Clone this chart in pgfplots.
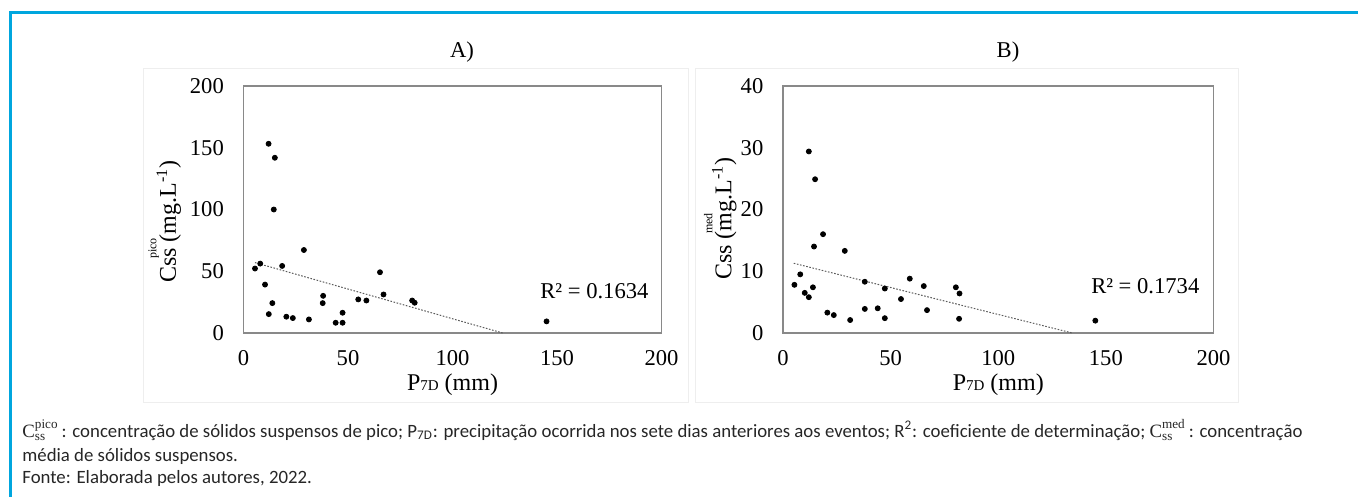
\documentclass[border=0pt]{standalone}
\usepackage{pgfplots}
\pgfplotsset{compat=1.18}
\usepackage{fontspec}
\setmainfont{Liberation Serif}
\newfontfamily\capfont{Carlito}
\definecolor{frameblue}{RGB}{0,166,222}
\definecolor{axgray}{RGB}{137,137,137}
\definecolor{faint}{RGB}{238,238,238}
\definecolor{trend}{RGB}{90,90,90}
\pgfplotsset{
  myax/.style={
    anchor=north west, scale only axis,
    xmin=0, xmax=200, ymin=0,
    xtick={0,50,...,200},
    major tick length=0pt,
    axis line style={axgray, line width=0.6pt},
    tick label style={font=\fontsize{11.3}{13}\selectfont},
    /pgf/number format/assume math mode=true,
    yticklabel style={xshift=-6.3pt},
    xticklabel style={yshift=-5.3pt},
    label style={font=\fontsize{12}{14}\selectfont},
    x label style={at={(axis description cs:0.5,0)}, anchor=center, yshift=-26pt},
    xlabel={P{\fontsize{7.5}{8}\selectfont 7D} (mm)},
  },
  dots/.style={only marks, mark=*, mark size=1.25pt, black},
  tl/.style={no marks, trend, line width=0.5pt, dash pattern=on 0.8pt off 0.8pt},
}
\begin{document}
\begin{tikzpicture}
\begin{scope}[x=0.5pt,y=-0.5pt]
\path[use as bounding box] (0,0) rectangle (1358,497);
\draw[faint, line width=0.5pt] (143,69) rectangle (688,402);
\draw[faint, line width=0.5pt] (695,69) rectangle (1238,402);
\draw[frameblue, line width=1.1pt] (10.5,497) -- (10.5,12.5) -- (1358,12.5);
\node[anchor=base, font=\fontsize{11.3}{13}\selectfont] at (462,58) {A)};
\node[anchor=base, font=\fontsize{11.3}{13}\selectfont] at (1008,58) {B)};
\begin{scope}[every node/.style={anchor=base west, inner sep=0pt, font=\capfont\fontsize{9.4}{11}\selectfont, text=black!85}]
\node at (22,437) {$\mathrm{C}^{\mathrm{pico}}_{\mathrm{ss}}$\,: concentração de sólidos suspensos de pico; P\textsubscript{7D}: precipitação ocorrida nos sete dias anteriores aos eventos; R\textsuperscript{2}: coeficiente de determinação; $\mathrm{C}^{\mathrm{med}\vphantom{p}}_{\mathrm{ss}}$\,: concentração};
\node at (22,461) {média de sólidos suspensos.};
\node at (22,483) {Fonte: Elaborada pelos autores, 2022.};
\end{scope}
\end{scope}

\begin{axis}[myax, at={(121.75pt,-43pt)}, width=209pt, height=123.5pt,
  ymax=200, ytick={0,50,...,200},
  y label style={at={(axis description cs:-0.162,0.451)}, anchor=base},
  ylabel={C\rlap{\hspace{4pt}\raisebox{9.7pt}{\fontsize{6}{6}\selectfont pico}}ss (mg.L\textsuperscript{-1})},
]
\addplot[dots] coordinates {
(5.5,52.2) (8.0,56.2) (10.3,39.2) (12.0,153.2) (12.1,15.3) (15.0,141.9)
(14.5,100.0) (13.8,24.2) (18.5,54.3) (20.5,13.2) (23.6,12.1) (28.9,67.2)
(31.3,11.0) (38.1,30.1) (37.9,24.2) (44.1,8.3) (47.4,16.4) (47.4,8.3)
(54.9,27.2) (58.8,26.3) (65.3,49.2) (67.0,31.2) (80.7,26.3) (81.9,24.5)
(145.0,9.4)
};
\addplot[tl] coordinates {(5.5,57.0) (124,0)};
\node[font=\fontsize{11.3}{13}\selectfont] at (axis cs:167.9,33.6) {R² = 0.1634};
\end{axis}

\begin{axis}[myax, at={(391.5pt,-43pt)}, width=215.25pt, height=123.5pt,
  ymax=40, ytick={0,10,...,40},
  y label style={at={(axis description cs:-0.120,0.463)}, anchor=base},
  ylabel={C\rlap{\hspace{15pt}\raisebox{9.5pt}{\fontsize{6}{6}\selectfont med}}ss (mg.L\textsuperscript{-1})},
]
\addplot[dots] coordinates {
(5.3,7.8) (8.0,9.5) (10.1,6.5) (12.0,29.4) (12.0,5.8) (14.9,24.9)
(14.4,14.0) (13.9,7.4) (18.6,16.0) (20.6,3.3) (23.6,2.9) (28.7,13.3)
(31.2,2.1) (38.0,8.3) (38.0,3.9) (44.0,4.0) (47.3,7.2) (47.3,2.4)
(54.8,5.5) (58.9,8.8) (65.4,7.6) (66.9,3.7) (80.3,7.4) (82.0,6.4)
(81.8,2.3) (145.1,2.0)
};
\addplot[tl] coordinates {(5.0,11.29) (134.4,0)};
\node[font=\fontsize{11.3}{13}\selectfont] at (axis cs:168.3,7.6) {R² = 0.1734};
\end{axis}
\end{tikzpicture}
\end{document}
